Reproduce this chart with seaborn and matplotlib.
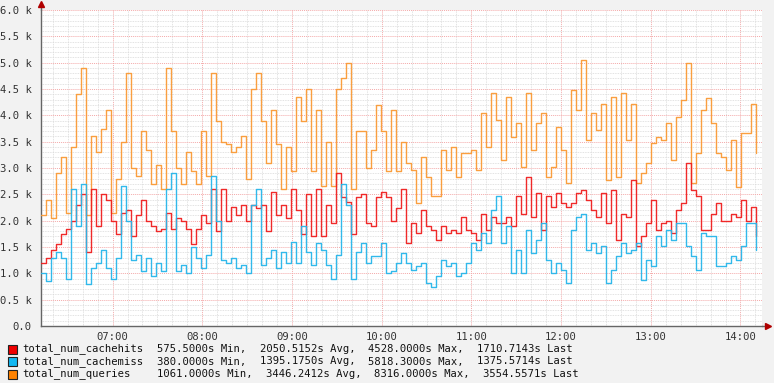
import numpy as np
import pandas as pd
import matplotlib
matplotlib.use("Agg")
import matplotlib.pyplot as plt
from matplotlib.ticker import MultipleLocator, FixedLocator
import seaborn as sns

# ---------------- data (values in thousands) ----------------
series_names = ["total_num_cachehits", "total_num_cachemiss", "total_num_queries"]

cachehits_k = [
    1.2, 1.3, 1.45, 1.55, 1.75, 1.85, 2.0, 2.3, 2.5, 1.4, 2.6, 1.9, 2.5, 2.4, 2.0, 1.75, 2.15, 2.2, 1.7, 2.1,
    2.4, 2.0, 1.9, 1.8, 1.85, 2.15, 1.85, 2.05, 2.0, 1.85, 1.55, 1.85, 2.1, 1.95, 2.6, 1.8, 2.6,
    2.0, 2.26, 2.1, 2.3, 2.0, 2.3, 2.25, 2.3, 1.8, 2.55, 2.1, 2.3, 2.05, 2.6, 2.2, 1.75, 2.5, 1.7, 2.6, 1.7,
    2.3, 1.95, 2.9, 2.45, 2.35, 1.75, 2.45, 2.5, 1.95, 1.9, 2.45, 2.55, 2.45, 2.0, 2.25, 2.6,
    1.57, 1.95, 1.76, 2.2, 1.89, 1.82, 1.63, 1.89, 1.76, 1.82, 1.76, 2.07, 1.82, 1.76, 1.63, 2.13, 1.82, 2.07,
    1.95, 1.95, 2.07, 1.89, 2.46, 2.13, 2.83, 2.07, 2.52, 1.82, 2.46, 2.26, 2.52, 2.33, 2.26, 2.33, 2.52, 2.58,
    2.39, 2.2, 2.07, 2.52, 1.95, 2.58, 1.63, 2.13, 2.07, 2.77, 1.51, 1.70, 1.95, 2.39, 1.82, 1.95, 2.0, 1.76,
    2.2, 2.33, 3.09, 2.58, 2.46, 1.82, 1.82, 2.13, 2.33, 2.0, 2.0, 2.13, 2.07, 2.39, 2.0, 2.26, 1.70,
]

cachemiss_k = [
    1.0, 0.85, 1.3, 1.4, 1.3, 0.9, 2.6, 1.9, 2.7, 0.8, 1.1, 1.2, 1.45, 1.1, 0.9, 1.3, 2.65, 2.0, 1.25, 1.35,
    1.05, 1.3, 0.95, 1.2, 1.05, 2.6, 2.9, 1.05, 1.15, 1.0, 1.5, 1.3, 1.1, 1.35, 2.85, 2.0, 1.25,
    1.19, 1.3, 1.1, 1.15, 1.0, 2.3, 2.6, 1.15, 1.3, 1.45, 1.1, 1.4, 1.2, 1.6, 1.2, 1.9, 1.4, 1.15, 1.57, 1.45,
    1.15, 0.9, 1.35, 2.7, 2.3, 0.9, 1.4, 1.57, 1.2, 1.32, 1.32, 1.57, 1.0, 1.05, 1.2, 1.38,
    1.19, 1.06, 1.13, 1.19, 0.81, 0.75, 0.94, 1.25, 1.13, 1.19, 0.94, 1.0, 1.19, 1.57, 1.44, 1.76, 1.57, 2.2,
    2.46, 1.57, 1.89, 1.0, 1.44, 1.0, 1.82, 1.38, 1.63, 1.95, 1.25, 1.0, 1.19, 1.06, 0.81, 1.82, 2.07, 2.13,
    1.44, 1.57, 1.38, 1.51, 0.81, 1.06, 1.32, 1.57, 1.38, 1.44, 1.57, 0.87, 1.25, 1.13, 1.70, 1.51, 1.82, 1.63,
    1.95, 1.95, 1.51, 1.32, 1.06, 1.76, 1.70, 1.70, 1.13, 1.13, 1.19, 1.32, 1.25, 1.51, 1.95, 1.95, 1.44,
]

queries_k = [
    2.1, 2.4, 2.05, 2.9, 3.2, 2.15, 3.4, 4.4, 4.9, 2.1, 3.6, 3.3, 3.75, 4.1, 2.15, 2.8, 3.5, 4.8, 3.0, 2.85,
    3.7, 3.35, 2.7, 3.05, 2.6, 4.9, 3.7, 3.0, 2.7, 3.3, 2.95, 2.7, 3.7, 2.85, 4.8, 3.9, 3.5,
    3.45, 3.3, 3.4, 3.6, 2.8, 4.5, 4.8, 3.9, 3.1, 4.1, 3.45, 2.6, 3.4, 2.95, 4.35, 3.9, 4.5, 2.95, 4.1, 2.65,
    3.5, 2.65, 4.5, 4.7, 5.0, 2.6, 3.7, 3.7, 3.0, 3.35, 4.2, 3.7, 2.95, 4.1, 2.95, 3.5,
    3.1, 2.96, 2.33, 3.21, 2.83, 2.46, 2.46, 3.34, 2.96, 3.4, 2.83, 3.28, 3.28, 3.34, 2.96, 4.04, 3.4, 4.42,
    3.91, 3.15, 4.35, 3.59, 3.85, 3.02, 4.42, 3.34, 3.85, 4.04, 2.83, 3.02, 3.78, 3.34, 2.71, 4.48, 4.1, 5.05,
    3.53, 4.04, 3.72, 4.21, 2.77, 4.35, 2.83, 4.42, 3.53, 4.21, 2.71, 2.9, 3.09, 3.47, 3.59, 3.53, 3.85, 3.15,
    3.97, 4.29, 4.99, 2.71, 3.28, 4.1, 4.32, 3.85, 3.28, 3.21, 2.96, 3.53, 2.64, 3.66, 3.66, 4.21, 3.28,
]

legend_stats = [
    ["575.5000s Min,", "2050.5152s Avg,", "4528.0000s Max,", "1710.7143s Last"],
    ["380.0000s Min,", "1395.1750s Avg,", "5818.3000s Max,", "1375.5714s Last"],
    ["1061.0000s Min,", "3446.2412s Avg,", "8316.0000s Max,", "3554.5571s Last"],
]
x_tick_hours = [7, 8, 9, 10, 11, 12, 13, 14]
x_tick_labels = ["07:00", "08:00", "09:00", "10:00", "11:00", "12:00", "13:00", "14:00"]
y_ticks = [0.0, 0.5, 1.0, 1.5, 2.0, 2.5, 3.0, 3.5, 4.0, 4.5, 5.0, 5.5, 6.0]
y_tick_labels = ["0.0", "0.5 k", "1.0 k", "1.5 k", "2.0 k", "2.5 k", "3.0 k", "3.5 k",
                 "4.0 k", "4.5 k", "5.0 k", "5.5 k", "6.0 k"]

# time axis (hours of day), one sample every ~3.3 minutes
t_start = 6.2018
t_step = 5 / 89.7
n = len(queries_k)
t_hours = t_start + np.arange(n) * t_step

line_colors = {"total_num_cachehits": "#f01e1e",
               "total_num_cachemiss": "#26b6ea",
               "total_num_queries": "#fa9a35"}
box_colors = ["#ee0000", "#12b8f2", "#ff8200"]

df = pd.concat([
    pd.DataFrame({"t": t_hours, "v": cachehits_k, "series": series_names[0]}),
    pd.DataFrame({"t": t_hours, "v": cachemiss_k, "series": series_names[1]}),
    pd.DataFrame({"t": t_hours, "v": queries_k, "series": series_names[2]}),
])

# ---------------- figure ----------------
sns.set_theme(style="white")
plt.rcParams["font.family"] = ["DejaVu Sans Mono", "DejaVu Sans"]

W, H = 774, 383
fig = plt.figure(figsize=(W / 100, H / 100), dpi=100)
fig.patch.set_facecolor("#f2f2f2")
ax = fig.add_axes([41 / W, 1 - 326 / H, (762 - 41) / W, (326 - 10) / H])
ax.set_facecolor("white")

# draw order: queries first, then cachehits, then cachemiss on top
order = [series_names[2], series_names[0], series_names[1]]
for name in order:
    sub = df[df["series"] == name]
    sns.lineplot(data=sub, x="t", y="v", ax=ax, color=line_colors[name],
                 drawstyle="steps-post", linewidth=1.0, errorbar=None,
                 legend=False, alpha=0.95, zorder=3)

ax.set_xlim(6.2018, 14.240)
ax.set_ylim(0, 6.0)
ax.set_xlabel("")
ax.set_ylabel("")

ax.xaxis.set_major_locator(FixedLocator(x_tick_hours))
ax.set_xticklabels(x_tick_labels)
ax.xaxis.set_minor_locator(MultipleLocator(1 / 6))
ax.yaxis.set_major_locator(FixedLocator(y_ticks))
ax.set_yticklabels(y_tick_labels)
ax.yaxis.set_minor_locator(MultipleLocator(0.1))

ax.grid(which="minor", color="#d9d9d9", linestyle=(0, (1, 1)), linewidth=0.6, zorder=0)
ax.grid(which="major", color="#f4aaaa", linestyle=(0, (1, 1)), linewidth=0.7, zorder=1)
ax.set_axisbelow(True)

ax.tick_params(axis="both", which="both", labelsize=7.6, labelcolor="#333333",
               color="#777777")
ax.tick_params(axis="x", which="major", length=3, width=0.8, pad=3, direction="inout")
ax.tick_params(axis="x", which="minor", length=2, width=0.5, direction="inout")
ax.tick_params(axis="y", which="major", length=3, width=0.8, pad=5, direction="inout")
ax.tick_params(axis="y", which="minor", length=0)

for s in ["top", "right"]:
    ax.spines[s].set_visible(False)
for s in ["left", "bottom"]:
    ax.spines[s].set_color("#666666")
    ax.spines[s].set_linewidth(1.0)

# axis extensions and red arrows
ax.plot([0, 0], [1.0, 1.016], transform=ax.transAxes, color="#666666", lw=1.0, clip_on=False)
ax.plot([1.0, 1.008], [0, 0], transform=ax.transAxes, color="#666666", lw=1.0, clip_on=False)
ax.plot([0], [1.018], transform=ax.transAxes, marker="^", color="#b00000", markersize=4, clip_on=False)
ax.plot([1.009], [0], transform=ax.transAxes, marker=">", color="#b00000", markersize=4, clip_on=False)

# ---------------- legend ----------------
row_y = [349, 361.5, 374]
col_x = [[157, 260, 368, 477], [157, 260, 368, 477], [157, 266, 374, 483]]
for i, name in enumerate(series_names):
    y = 1 - row_y[i] / H
    fig.patches.append(plt.Rectangle((8 / W, 1 - (row_y[i] + 4.5) / H), 9 / W, 9 / H,
                                     transform=fig.transFigure, facecolor=box_colors[i],
                                     edgecolor="#222222", linewidth=0.8))
    fig.text(22 / W, y, name, fontsize=7.6, color="#111111", va="center", ha="left")
    for j, seg in enumerate(legend_stats[i]):
        fig.text(col_x[i][j] / W, y, seg, fontsize=7.6, color="#111111", va="center", ha="left")

fig.savefig("out.png", dpi=100, facecolor=fig.get_facecolor())
